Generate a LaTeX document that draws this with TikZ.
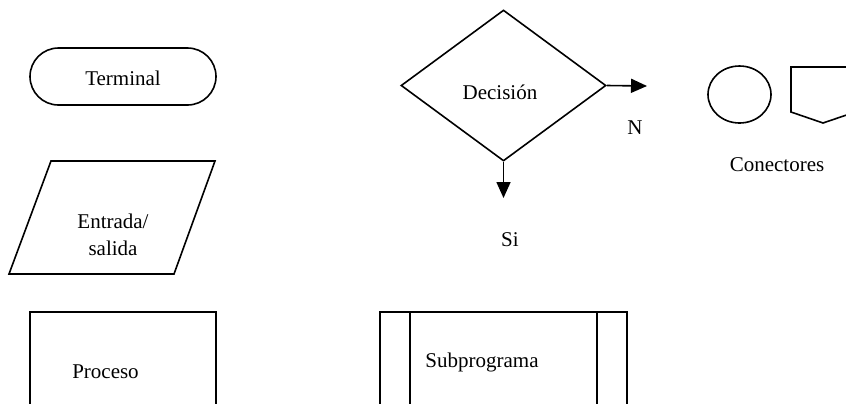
\documentclass[tikz,border=0pt]{standalone}
\usepackage{fontspec}
\setmainfont{Liberation Serif}
\usetikzlibrary{arrows.meta,shapes.geometric,shapes.misc}
\begin{document}
\begin{tikzpicture}[x=0.5pt,y=-0.5pt,
  shp/.style={draw=black,line width=0.8pt},
  lbl/.style={font=\fontsize{10.5}{13.5}\selectfont,inner sep=0pt,align=center},
  arr/.style={line width=0.8pt,-{Triangle[length=8pt,width=7pt]}}]
\useasboundingbox (0,0) rectangle (846,403);
\clip (0,0) rectangle (846,403);
% Terminal
\node[shp,rounded rectangle,minimum width=93pt,minimum height=28.5pt,inner sep=0pt] (term) at (123,76.5) {};
\node[lbl] (termt) at (123,78) {Terminal};
% Entrada/salida
\coordinate (p1) at (51,161); \coordinate (p2) at (215,161);
\coordinate (p3) at (174,274); \coordinate (p4) at (9,274);
\draw[shp,line join=miter] (p1) -- (p2) -- (p3) -- (p4) -- cycle;
\node[lbl] (es) at (113,235) {Entrada/\\salida};
% Proceso
\draw[shp,line width=0.9pt] (30,430) -- (30,312) -- (216,312) -- (216,430);
\node[lbl] (proc) at (105.5,372) {Proceso};
% Decision
\node[shp,diamond,minimum width=102.5pt,minimum height=75.5pt,inner sep=0pt] (dec) at (503.5,85.5) {};
\node[lbl] (dect) at (500,92) {Decisión};
\coordinate (nend) at (647,86);
\coordinate (send) at (503.5,198);
\draw[arr] (dec.east) -- (nend);
\draw[arr] (dec.south) -- (send);
\node[lbl] (n) at (635,128) {N};
\node[lbl] (si) at (510,240) {Si};
% Connectors
\node[shp,ellipse,minimum width=31.5pt,minimum height=28.5pt,inner sep=0pt] (circ) at (739.5,94.5) {};
\draw[shp,line join=miter] (870,67) -- (791,67) -- (791,112) -- (823,123) -- (870,107);
\node[lbl] (con) at (777,165) {Conectores};
% Subprograma
\draw[shp] (380,430) -- (380,312) -- (627,312) -- (627,430);
\draw[shp] (410,312) -- (410,430);
\draw[shp] (597,312) -- (597,430);
\node[lbl] (sub) at (482,362) {Subprograma};
\end{tikzpicture}
\end{document}
